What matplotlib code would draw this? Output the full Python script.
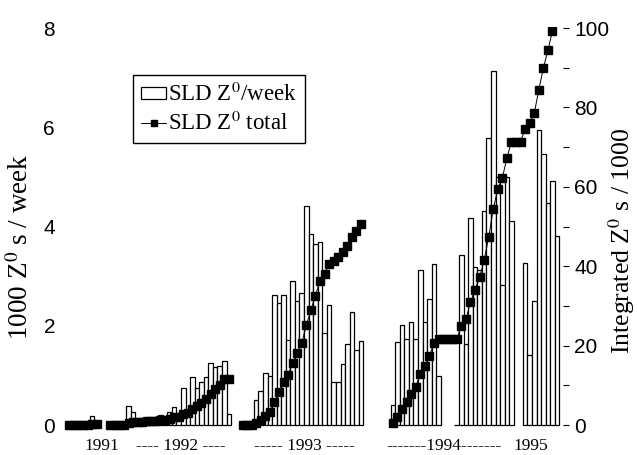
## Import Libraries
import numpy as np
import matplotlib
matplotlib.use("Agg")
import matplotlib.pyplot as plt
from matplotlib.patches import Patch
from matplotlib.lines import Line2D
from matplotlib.ticker import MultipleLocator

plt.rcParams['font.family'] = ['Liberation Serif', 'DejaVu Serif']
plt.rcParams['mathtext.fontset'] = 'stix'

## Data: Z0s per week (in 1000s), one list per run
# first week of each run on a common week axis
run_start = [0, 9, 38, 71]

z_1991 = [0, 0.02, 0.03, 0.05, 0.03, 0.19, 0.05]
z_1992 = [0, 0, 0, 0.03, 0.39, 0.27, 0.10, 0.06, 0.05, 0.04, 0.10, 0.20, 0.12,
          0.27, 0.37, 0.10, 0.74, 0.20, 0.97, 0.74, 0.87, 0.97, 1.25, 1.16,
          1.18, 1.30, 0.23]
z_1993 = [0, 0, 0, 0.50, 0.69, 1.05, 0.98, 2.63, 2.45, 2.63, 1.71, 2.90, 2.49,
          2.66, 4.42, 3.84, 3.65, 3.69, 1.86, 2.41, 0.87, 0.87, 1.23, 1.63,
          2.28, 1.51, 1.70]
# nan = no running that week (no bar, total stays flat)
z_1994_95 = [0.40, 1.68, 2.01, 1.74, 2.08, 1.74, 3.12, 2.08, 2.55, 3.25, 0.99,
             np.nan, np.nan, np.nan, 0,
             3.43, 1.64, 4.17, 3.18, 3.13, 4.31, 5.78, 7.14, 5.00, 2.83, 5.00, 4.12,
             np.nan, np.nan,
             3.26, 1.41, 2.49, 5.94, 5.46, 4.47, 4.91, 3.81]

runs = [z_1991, z_1992, z_1993, z_1994_95]

# x labels
period_labels = ['1991', '---- 1992 ----', '----- 1993 -----',
                 '-------1994-------', '1995']
period_pos = [7.7, 24.9, 52.1, 82.7, 101.8]

## Plot
fig = plt.figure(figsize=(6.37, 4.55), dpi=100)
ax = fig.add_axes([0.0973, 0.0549, 0.7865, 0.8857])
ax2 = ax.twinx()

for start, vals in zip(run_start, runs):
    vals = np.array(vals, dtype=float)
    weeks = start + np.arange(len(vals))
    has_bar = ~np.isnan(vals)
    ax.bar(weeks[has_bar], vals[has_bar], width=1.0, align='edge',
           color='white', edgecolor='black', linewidth=0.9)
    # integrated total, in 1000s
    total = np.cumsum(np.nan_to_num(vals))
    ax2.plot(weeks + 0.5, total, color='black', linewidth=0.7,
             marker='s', markersize=5.3, markerfacecolor='black')

ax.set_xlim(-1.1, 108.8)
ax.set_ylim(-0.1, 8.02)
ax2.set_ylim(-1.25, 100.25)

ax.set_yticks([0, 2, 4, 6, 8])
ax2.set_yticks([0, 20, 40, 60, 80, 100])
ax2.yaxis.set_minor_locator(MultipleLocator(10))

ax.set_xticks(period_pos, period_labels, fontsize=12.5)
ax.tick_params(axis='x', length=0, pad=6)
ax.tick_params(axis='y', length=0, pad=5)
ax2.tick_params(axis='y', which='both', length=4, width=0.8, pad=4)

for lab in ax.get_yticklabels() + ax2.get_yticklabels():
    lab.set_family('Liberation Sans')
    lab.set_fontsize(15)

for a in (ax, ax2):
    for s in a.spines.values():
        s.set_visible(False)

ax.set_ylabel('1000 Z$^0$ s / week', fontsize=19.5)
ax.yaxis.set_label_coords(-0.056, 0.455)
ax2.set_ylabel('Integrated Z$^0$ s / 1000', fontsize=18.5)
ax2.yaxis.set_label_coords(1.086, 0.47)

handles = [Patch(facecolor='white', edgecolor='black', linewidth=0.9),
           Line2D([], [], color='black', linewidth=0.7, marker='s', markersize=5)]
ax2.legend(handles, ['SLD Z$^0$/week', 'SLD Z$^0$ total'],
           loc='upper left', bbox_to_anchor=(0.1417, 0.881), borderaxespad=0,
           fontsize=16.5, frameon=True, fancybox=False, edgecolor='black',
           framealpha=1, handlelength=1.1, handleheight=0.45, handletextpad=0.1,
           borderpad=0.35, labelspacing=0.25)

fig.savefig('out.png', dpi=100)
